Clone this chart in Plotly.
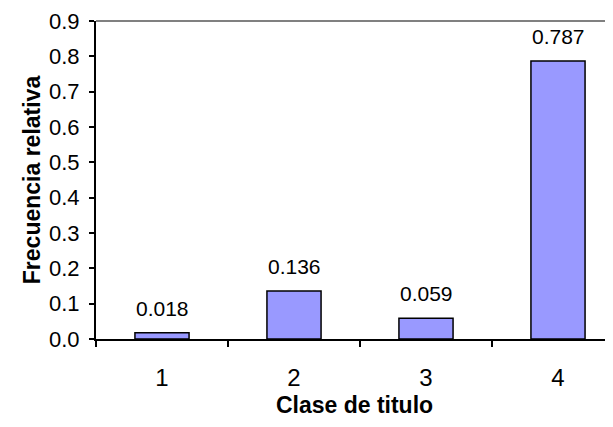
# Frecuencia relativa por clase de titulo, bar chart

import plotly.graph_objects as go

clases = ['1', '2', '3', '4']
frecuencia = [0.018, 0.136, 0.059, 0.787]
etiquetas = ['0.018', '0.136', '0.059', '0.787']
y_ticks = [0.0, 0.1, 0.2, 0.3, 0.4, 0.5, 0.6, 0.7, 0.8, 0.9]

fuente = 'Liberation Sans, Arial, sans-serif'

bars = go.Bar(x=clases, y=frecuencia, width=0.41,
              marker=dict(color='#9999FF', line=dict(color='black', width=1.5)),
              hoverinfo='skip')

# data labels above each bar (x given as category index)
notas = [dict(x=i, y=v, text=t, showarrow=False, yanchor='bottom', yshift=11,
              font=dict(size=21, color='black', family=fuente))
         for i, (v, t) in enumerate(zip(frecuencia, etiquetas))]

# page body has an 8px margin, so the figure is a little smaller than the window
layout = go.Layout(
    width=605, height=411,
    margin=dict(l=88, r=0, t=13, b=80),
    paper_bgcolor='white', plot_bgcolor='white',
    font=dict(family=fuente, size=22, color='black'),
    showlegend=False,
    xaxis=dict(type='category', range=[-0.5, 3.5 - 11 / 132],
               showline=True, linecolor='black', linewidth=2,
               ticks='outside', tickson='boundaries', ticklen=6, tickwidth=2, tickcolor='black',
               tickfont=dict(size=24), ticklabelstandoff=16, showgrid=False, zeroline=False,
               title=dict(text='<b>Clase de titulo</b>', standoff=7, font=dict(size=23))),
    yaxis=dict(range=[0, 0.9], tickvals=y_ticks, ticktext=['%.1f' % v for v in y_ticks],
               showline=True, linecolor='black', linewidth=2,
               ticks='outside', ticklen=5, tickwidth=2, tickcolor='black',
               tickfont=dict(size=22), ticklabelstandoff=5, showgrid=False, zeroline=False,
               title=dict(text='<b>Frecuencia relativa</b>', standoff=2, font=dict(size=23))),
    annotations=notas,
    shapes=[dict(type='line', xref='paper', yref='paper', x0=0, x1=1, y0=1, y1=1,
                 line=dict(color='#808080', width=2))],
)

fig = go.Figure(data=[bars], layout=layout)
fig.write_html('out.html')
